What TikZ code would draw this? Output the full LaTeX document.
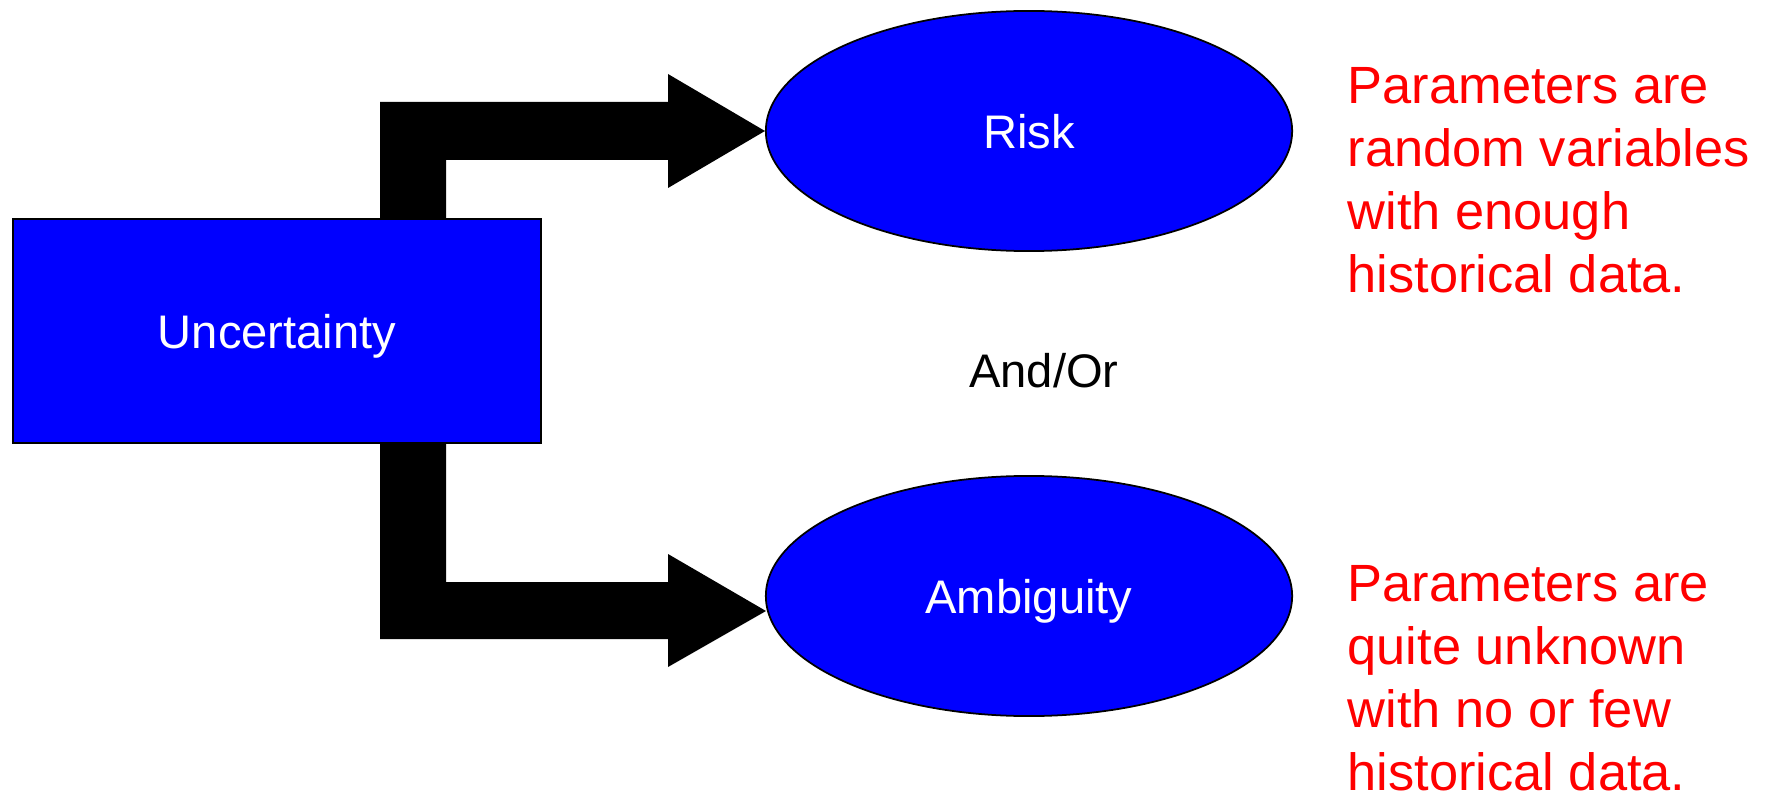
\documentclass[tikz,border=0pt]{standalone}
\usepackage{fontspec}
\setmainfont{Liberation Sans}
\usetikzlibrary{shapes.geometric}
\definecolor{pureblue}{RGB}{0,0,255}
\definecolor{purered}{RGB}{255,0,0}
\begin{document}
\begin{tikzpicture}[x=0.01cm,y=-0.01cm,
  boxstyle/.style={draw=black,line width=0.7pt,fill=pureblue,text=white,inner sep=0pt,
    minimum width=5.28cm,minimum height=2.24cm,text depth=0pt,font=\fontsize{13.4}{16}\selectfont},
  ellstyle/.style={ellipse,draw=black,line width=0.5pt,fill=pureblue,text=white,inner sep=0pt,
    minimum width=5.26cm,minimum height=2.4cm,text depth=0pt,font=\fontsize{13.4}{16}\selectfont},
  blockarrow/.style={fill=black,draw=none},
  note/.style={text=purered,align=left,inner sep=0pt,anchor=base west,
    font=\fontsize{14.9}{17.9}\selectfont},
  plain/.style={text=black,inner sep=0pt,text depth=0pt,font=\fontsize{13.4}{16}\selectfont}]
\useasboundingbox (0,0) rectangle (1766,794);
% nodes
\node[ellstyle] (risk) at (1029,131) {Risk};
\node[ellstyle] (amb) at (1029,596) {Ambiguity};
\coordinate (ambtip) at (766,611);
% arrows (drawn beneath the box)
\fill[blockarrow] (380,219) -- (380,102) -- (668,102) -- (668,74) -- (risk.west)
  -- (668,188) -- (668,160) -- (446,160) -- (446,219) -- cycle;
\fill[blockarrow] (380,443) -- (380,639) -- (668,639) -- (668,667) -- (ambtip)
  -- (668,554) -- (668,582) -- (446,582) -- (446,443) -- cycle;
\node[boxstyle] (unc) at (277,331) {Uncertainty};
\node[plain] (andor) at (1044,370) {And/Or};
\node[note] (n1) at (1347,292) {Parameters are\\random variables\\with enough\\historical data.};
\node[note] (n2) at (1347,790) {Parameters are\\quite unknown\\with no or few\\historical data.};
\end{tikzpicture}
\end{document}
